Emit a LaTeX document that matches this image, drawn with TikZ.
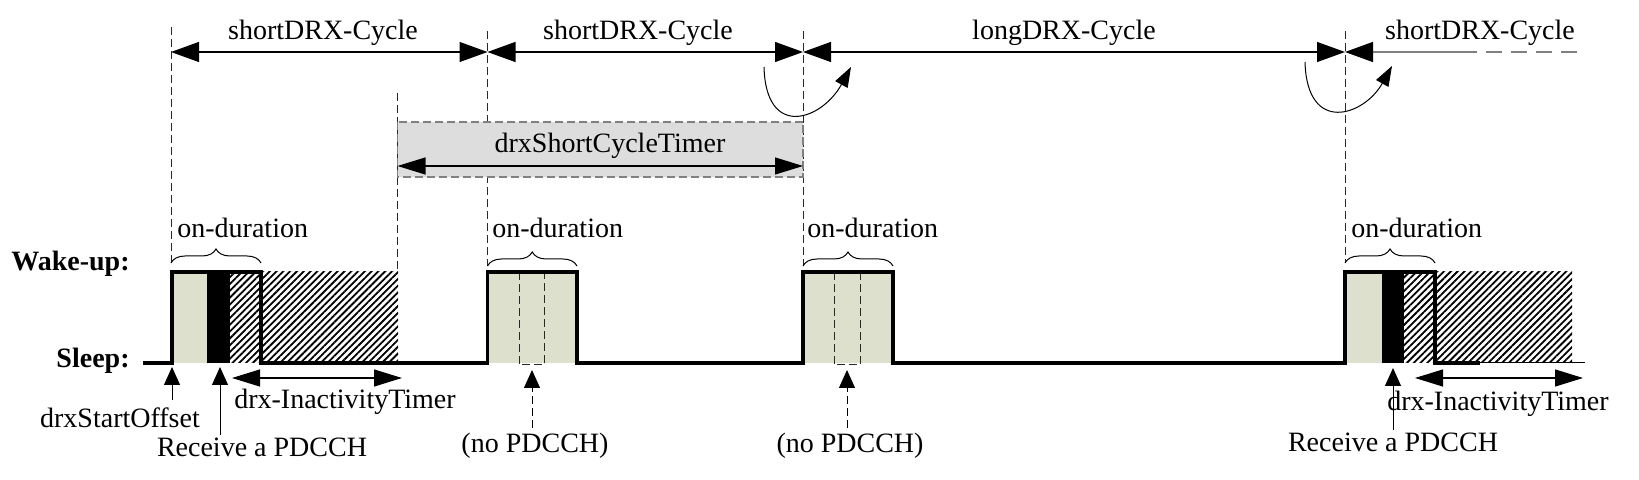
\documentclass[tikz,border=0pt]{standalone}
\usepackage{fontspec}
\setmainfont{Liberation Serif}
\usepackage{tikz}
\usetikzlibrary{arrows.meta, decorations.pathreplacing, patterns.meta, positioning}
\definecolor{ongreen}{RGB}{221,224,204}
\definecolor{boxgray}{RGB}{221,221,221}
\definecolor{guidegray}{RGB}{40,40,40}
\tikzset{
  lbl/.style={font=\fontsize{14}{16}\selectfont, inner sep=0pt},
  statelbl/.style={font=\fontsize{14}{16}\selectfont\bfseries, inner sep=0pt},
  guide/.style={guidegray, line width=0.5pt, dash pattern=on 4pt off 2pt},
  timerbox/.style={fill=boxgray, draw=gray, line width=0.6pt, dash pattern=on 4pt off 2pt},
  cyclearrow/.style={{Triangle[length=14pt,width=10pt]}-{Triangle[length=14pt,width=10pt]}, line width=0.6pt},
  timerarrow/.style={{Triangle[length=14pt,width=8.5pt]}-{Triangle[length=14pt,width=8.5pt]}, line width=0.6pt},
  uparrow/.style={-{Triangle[length=9pt,width=8pt]}, line width=0.5pt},
  looparrow/.style={-{Triangle[length=10pt,width=7pt]}, line width=0.5pt},
  onbrace/.style={decorate, decoration={brace, amplitude=7pt}, line width=0.5pt},
  wave/.style={line width=1.6pt, line join=miter},
  hatch/.style={pattern={Lines[angle=45, distance=2.4pt, line width=0.9pt]}}
}
\begin{document}
\begin{tikzpicture}[x=0.5pt, y=-0.5pt]
  \useasboundingbox (0,0) rectangle (1639,480);

  % Cycle boundaries
  \coordinate (b1) at (171,52);
  \coordinate (b2) at (487.5,52);
  \coordinate (b3) at (803,52);
  \coordinate (b4) at (1345,52);
  \coordinate (b5) at (1461,52);
  \coordinate (b6) at (1580,52);

  % Guide lines
  \draw[guide] (171,27) -- (171,263);
  \draw[guide] (487.5,31) -- (487.5,266);
  \draw[guide] (397.5,93) -- (397.5,272);
  \draw[guide] (803,31) -- (803,266);
  \draw[guide] (1345,31) -- (1345,263);

  % Short cycle timer
  \draw[timerbox] (397.5,122) rectangle (803,177);
  \node[lbl] (timer) at (610,146) {drxShortCycleTimer};
  \coordinate (tl) at (397.5,166);
  \coordinate (tr) at (803,166);
  \draw[timerarrow] (tl) -- (tr);

  % Cycle arrows
  \node[lbl] (short1) at (323,33) {shortDRX-Cycle};
  \node[lbl] (short2) at (638,33) {shortDRX-Cycle};
  \node[lbl] (long1) at (1064,33) {longDRX-Cycle};
  \node[lbl] (short3) at (1480,33) {shortDRX-Cycle};
  \draw[cyclearrow] (b1) -- (b2);
  \draw[cyclearrow] (b2) -- (b3);
  \draw[cyclearrow] (b3) -- (b4);
  \draw[{Triangle[length=14pt,width=10pt,color=black]}-, gray, line width=0.6pt] (b4) -- (b5);
  \draw[gray, line width=0.6pt, dash pattern=on 8pt off 4.5pt] (b5) -- (b6);

  % Cycle switches
  \draw[looparrow] (764,67) .. controls (766,140) and (822,120) .. (851,67);
  \draw[looparrow] (1305,62) .. controls (1307,135) and (1364,116) .. (1392,66);

  % Pulse fills
  \fill[ongreen] (172,272) rectangle (207,363);
  \fill[black] (207,272) rectangle (230,363);
  \fill[hatch] (230,272) rectangle (398,363);
  \fill[ongreen] (487.5,272) rectangle (577,363);
  \draw[guide] (519,272) rectangle (544,365);
  \fill[ongreen] (803,272) rectangle (893,363);
  \draw[guide] (834,272) rectangle (860,365);
  \fill[ongreen] (1345,272) rectangle (1382,363);
  \fill[black] (1382,272) rectangle (1404,363);
  \fill[hatch] (1404,272) rectangle (1572,363);

  % Wake-up / sleep signal
  \draw[wave] (143,363) -- (172,363) -- (172,272) -- (261,272) -- (261,363)
    -- (487.5,363) -- (487.5,272) -- (577,272) -- (577,363)
    -- (803,363) -- (803,272) -- (893,272) -- (893,363)
    -- (1345,363) -- (1345,272) -- (1435,272) -- (1435,363) -- (1480,363);
  \draw[line width=0.5pt] (1480,363) -- (1585,363);
  \node[statelbl, anchor=base east] (wake) at (130,271) {Wake-up:};
  \node[statelbl, anchor=base east] (sleep) at (130,368) {Sleep:};

  % On-duration
  \draw[onbrace] (171,263) -- (261,263);
  \draw[onbrace] (487.5,266) -- (577,266);
  \draw[onbrace] (803,266) -- (893,266);
  \draw[onbrace] (1345,263) -- (1435,263);
  \node[lbl, anchor=west] (on1) at (177,228) {on-duration};
  \node[lbl, anchor=west] (on2) at (492,228) {on-duration};
  \node[lbl, anchor=west] (on3) at (807,228) {on-duration};
  \node[lbl, anchor=west] (on4) at (1351,228) {on-duration};

  % Events
  \coordinate (rise1) at (172,367);
  \coordinate (rx1) at (220,367);
  \coordinate (np1) at (532,370);
  \coordinate (np2) at (847,370);
  \coordinate (rx2) at (1393,368);
  \node[lbl] (offset) at (120,418) {drxStartOffset};
  \node[lbl] (recv1) at (262,447) {Receive a PDCCH};
  \node[lbl] (nopd1) at (535,446) {(no PDCCH)};
  \node[lbl] (nopd2) at (850,446) {(no PDCCH)};
  \node[lbl] (recv2) at (1393,442) {Receive a PDCCH};
  \draw[uparrow, shorten <=4pt] (offset.north -| rise1) -- (rise1);
  \draw[uparrow, shorten <=1pt] (recv1.north -| rx1) -- (rx1);
  \draw[uparrow, shorten <=2.5pt, dash pattern=on 4pt off 2pt] (nopd1.north -| np1) -- (np1);
  \draw[uparrow, shorten <=2.5pt, dash pattern=on 4pt off 2pt] (nopd2.north -| np2) -- (np2);
  \draw[uparrow, shorten <=1pt] (recv2.north -| rx2) -- (rx2);

  % Inactivity timers
  \coordinate (in1l) at (232,378);
  \coordinate (in1r) at (402,378);
  \coordinate (in2l) at (1415,378);
  \coordinate (in2r) at (1583,378);
  \draw[timerarrow] (in1l) -- (in1r);
  \draw[timerarrow] (in2l) -- (in2r);
  \node[lbl] (inact1) at (345,402) {drx-InactivityTimer};
  \node[lbl] (inact2) at (1498,404) {drx-InactivityTimer};
\end{tikzpicture}
\end{document}
